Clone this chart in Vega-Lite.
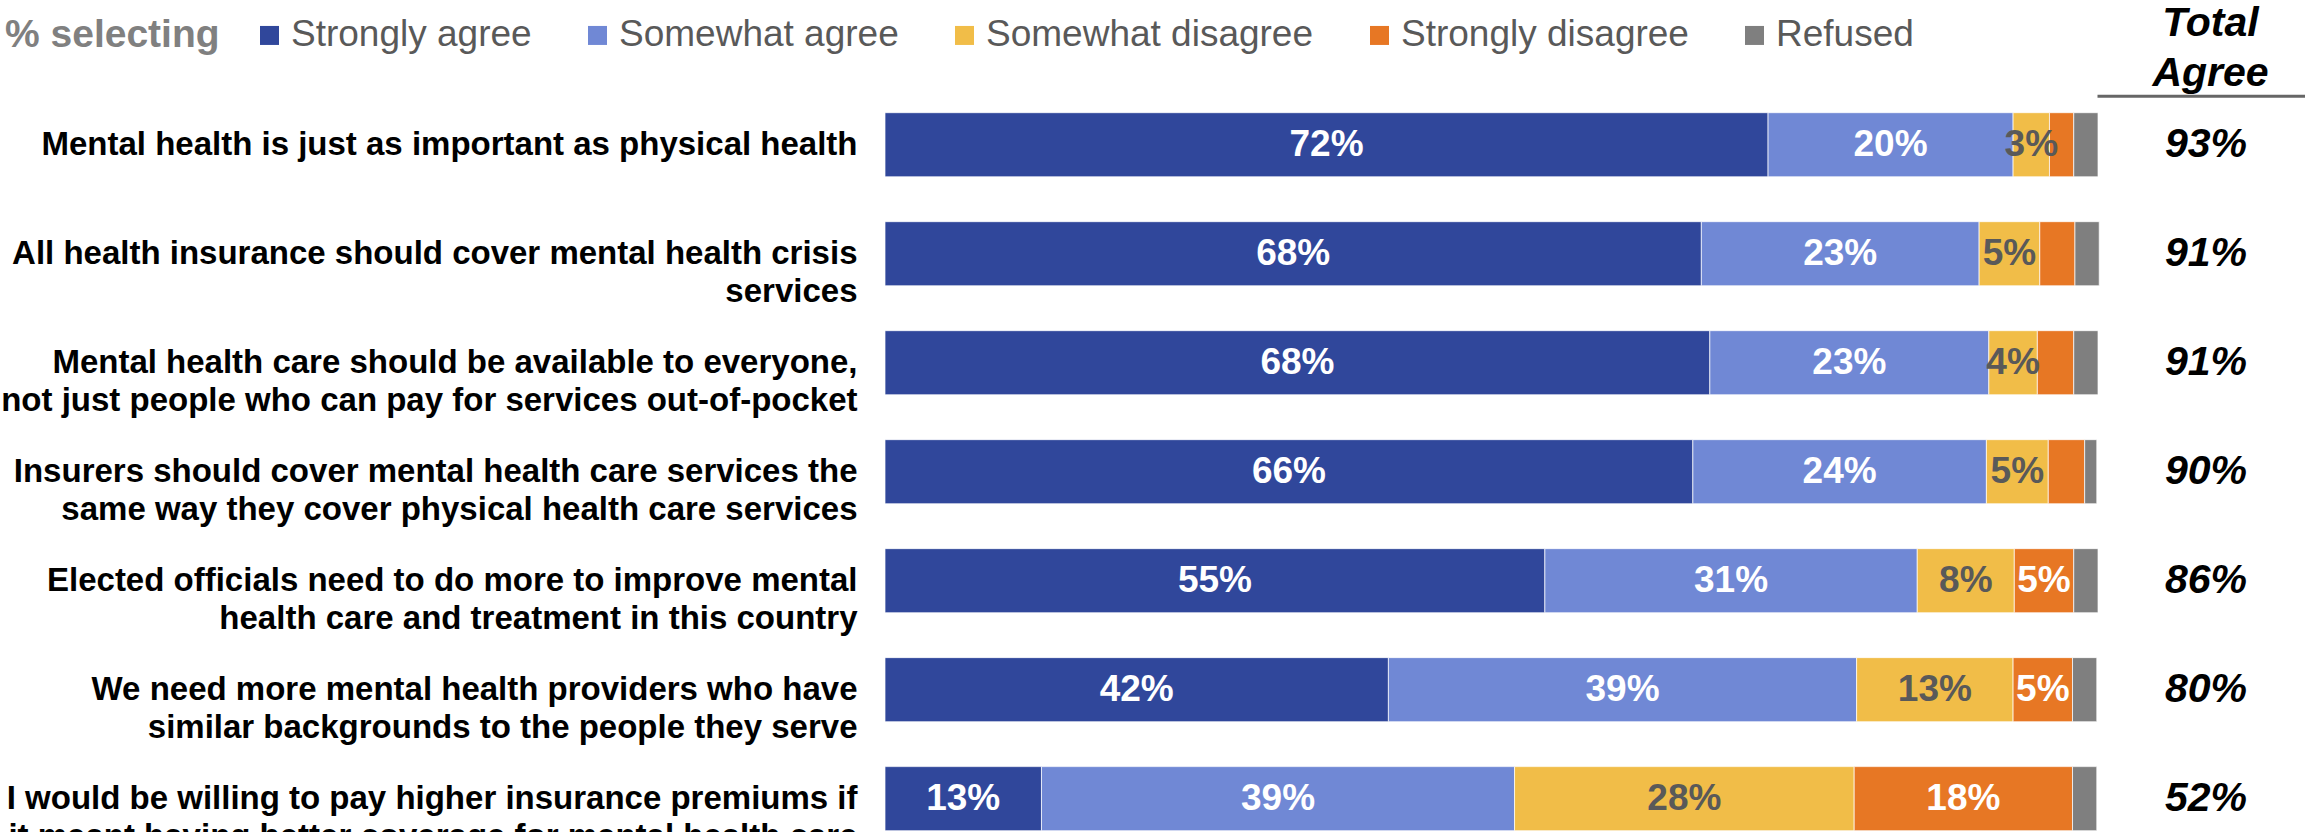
{
  "$schema": "https://vega.github.io/schema/vega-lite/v6.json",
  "autosize": {"type": "none"},
  "width": 1420,
  "height": 718,
  "padding": {"left": 885, "top": 112.7, "right": 0, "bottom": 1.3},
  "background": "white",
  "config": {"view": {"stroke": null}, "font": "Liberation Sans"},
  "datasets": {
    "resp": [
      {"statement": "Mental health is just as important as physical health", "response": "Strongly agree", "rank": 1, "value": 72.8, "label": "72%"},
      {"statement": "Mental health is just as important as physical health", "response": "Somewhat agree", "rank": 2, "value": 20.2, "label": "20%"},
      {"statement": "Mental health is just as important as physical health", "response": "Somewhat disagree", "rank": 3, "value": 3.0, "label": "3%"},
      {"statement": "Mental health is just as important as physical health", "response": "Strongly disagree", "rank": 4, "value": 2.0, "label": ""},
      {"statement": "Mental health is just as important as physical health", "response": "Refused", "rank": 5, "value": 2.0, "label": ""},
      {"statement": "All health insurance should cover mental health crisis|services", "response": "Strongly agree", "rank": 1, "value": 67.3, "label": "68%"},
      {"statement": "All health insurance should cover mental health crisis|services", "response": "Somewhat agree", "rank": 2, "value": 22.9, "label": "23%"},
      {"statement": "All health insurance should cover mental health crisis|services", "response": "Somewhat disagree", "rank": 3, "value": 5.0, "label": "5%"},
      {"statement": "All health insurance should cover mental health crisis|services", "response": "Strongly disagree", "rank": 4, "value": 2.9, "label": ""},
      {"statement": "All health insurance should cover mental health crisis|services", "response": "Refused", "rank": 5, "value": 2.0, "label": ""},
      {"statement": "Mental health care should be available to everyone,|not just people who can pay for services out-of-pocket", "response": "Strongly agree", "rank": 1, "value": 68.0, "label": "68%"},
      {"statement": "Mental health care should be available to everyone,|not just people who can pay for services out-of-pocket", "response": "Somewhat agree", "rank": 2, "value": 23.0, "label": "23%"},
      {"statement": "Mental health care should be available to everyone,|not just people who can pay for services out-of-pocket", "response": "Somewhat disagree", "rank": 3, "value": 4.0, "label": "4%"},
      {"statement": "Mental health care should be available to everyone,|not just people who can pay for services out-of-pocket", "response": "Strongly disagree", "rank": 4, "value": 3.0, "label": ""},
      {"statement": "Mental health care should be available to everyone,|not just people who can pay for services out-of-pocket", "response": "Refused", "rank": 5, "value": 2.0, "label": ""},
      {"statement": "Insurers should cover mental health care services the|same way they cover physical health care services", "response": "Strongly agree", "rank": 1, "value": 66.6, "label": "66%"},
      {"statement": "Insurers should cover mental health care services the|same way they cover physical health care services", "response": "Somewhat agree", "rank": 2, "value": 24.2, "label": "24%"},
      {"statement": "Insurers should cover mental health care services the|same way they cover physical health care services", "response": "Somewhat disagree", "rank": 3, "value": 5.1, "label": "5%"},
      {"statement": "Insurers should cover mental health care services the|same way they cover physical health care services", "response": "Strongly disagree", "rank": 4, "value": 3.0, "label": ""},
      {"statement": "Insurers should cover mental health care services the|same way they cover physical health care services", "response": "Refused", "rank": 5, "value": 1.0, "label": ""},
      {"statement": "Elected officials need to do more to improve mental|health care and treatment in this country", "response": "Strongly agree", "rank": 1, "value": 54.4, "label": "55%"},
      {"statement": "Elected officials need to do more to improve mental|health care and treatment in this country", "response": "Somewhat agree", "rank": 2, "value": 30.7, "label": "31%"},
      {"statement": "Elected officials need to do more to improve mental|health care and treatment in this country", "response": "Somewhat disagree", "rank": 3, "value": 8.0, "label": "8%"},
      {"statement": "Elected officials need to do more to improve mental|health care and treatment in this country", "response": "Strongly disagree", "rank": 4, "value": 4.9, "label": "5%"},
      {"statement": "Elected officials need to do more to improve mental|health care and treatment in this country", "response": "Refused", "rank": 5, "value": 2.0, "label": ""},
      {"statement": "We need more mental health providers who have|similar backgrounds to the people they serve", "response": "Strongly agree", "rank": 1, "value": 41.5, "label": "42%"},
      {"statement": "We need more mental health providers who have|similar backgrounds to the people they serve", "response": "Somewhat agree", "rank": 2, "value": 38.6, "label": "39%"},
      {"statement": "We need more mental health providers who have|similar backgrounds to the people they serve", "response": "Somewhat disagree", "rank": 3, "value": 12.9, "label": "13%"},
      {"statement": "We need more mental health providers who have|similar backgrounds to the people they serve", "response": "Strongly disagree", "rank": 4, "value": 4.9, "label": "5%"},
      {"statement": "We need more mental health providers who have|similar backgrounds to the people they serve", "response": "Refused", "rank": 5, "value": 2.0, "label": ""},
      {"statement": "I would be willing to pay higher insurance premiums if|it meant having better coverage for mental health care", "response": "Strongly agree", "rank": 1, "value": 12.9, "label": "13%"},
      {"statement": "I would be willing to pay higher insurance premiums if|it meant having better coverage for mental health care", "response": "Somewhat agree", "rank": 2, "value": 39.0, "label": "39%"},
      {"statement": "I would be willing to pay higher insurance premiums if|it meant having better coverage for mental health care", "response": "Somewhat disagree", "rank": 3, "value": 28.0, "label": "28%"},
      {"statement": "I would be willing to pay higher insurance premiums if|it meant having better coverage for mental health care", "response": "Strongly disagree", "rank": 4, "value": 18.0, "label": "18%"},
      {"statement": "I would be willing to pay higher insurance premiums if|it meant having better coverage for mental health care", "response": "Refused", "rank": 5, "value": 2.0, "label": ""}
    ],
    "totals": [
      {"statement": "Mental health is just as important as physical health", "col": "Total Agree", "total": "93%"},
      {"statement": "All health insurance should cover mental health crisis|services", "col": "Total Agree", "total": "91%"},
      {"statement": "Mental health care should be available to everyone,|not just people who can pay for services out-of-pocket", "col": "Total Agree", "total": "91%"},
      {"statement": "Insurers should cover mental health care services the|same way they cover physical health care services", "col": "Total Agree", "total": "90%"},
      {"statement": "Elected officials need to do more to improve mental|health care and treatment in this country", "col": "Total Agree", "total": "86%"},
      {"statement": "We need more mental health providers who have|similar backgrounds to the people they serve", "col": "Total Agree", "total": "80%"},
      {"statement": "I would be willing to pay higher insurance premiums if|it meant having better coverage for mental health care", "col": "Total Agree", "total": "52%"}
    ]
  },
  "encoding": {
    "y": {
      "field": "statement",
      "type": "nominal",
      "scale": {
        "domain": [
          "Mental health is just as important as physical health",
          "All health insurance should cover mental health crisis|services",
          "Mental health care should be available to everyone,|not just people who can pay for services out-of-pocket",
          "Insurers should cover mental health care services the|same way they cover physical health care services",
          "Elected officials need to do more to improve mental|health care and treatment in this country",
          "We need more mental health providers who have|similar backgrounds to the people they serve",
          "I would be willing to pay higher insurance premiums if|it meant having better coverage for mental health care"
        ],
        "paddingInner": 0.412,
        "paddingOuter": 0
      },
      "axis": {
        "title": null,
        "domain": false,
        "ticks": false,
        "grid": false,
        "labelPadding": 28,
        "labelFontSize": 33,
        "labelFontWeight": "bold",
        "labelColor": "#000000",
        "labelFont": "Liberation Sans",
        "labelLimit": 1200,
        "labelLineHeight": 38,
        "labelExpr": "split(datum.label, '|')"
      }
    }
  },
  "layer": [
    {
      "data": {"name": "resp"},
      "transform": [
        {"stack": "value", "groupby": ["statement"], "sort": [{"field": "rank", "order": "ascending"}], "as": ["x0", "x1"]}
      ],
      "mark": {"type": "bar", "stroke": "#ffffff", "strokeWidth": 1, "strokeOpacity": 0.7},
      "encoding": {
        "x": {"field": "x0", "type": "quantitative", "scale": {"domain": [0, 100], "range": [0, 1213], "nice": false, "zero": true}, "axis": null},
        "x2": {"field": "x1"},
        "color": {
          "field": "response",
          "type": "nominal",
          "scale": {
            "domain": ["Strongly agree", "Somewhat agree", "Somewhat disagree", "Strongly disagree", "Refused"],
            "range": ["#30479B", "#7088D5", "#F1BD48", "#E77724", "#7F7F7F"]
          },
          "legend": {
            "orient": "none",
            "legendX": -880,
            "legendY": -96,
            "direction": "horizontal",
            "columns": 5,
            "title": "% selecting",
            "titleOrient": "left",
            "titleFontSize": 39,
            "titleFontWeight": "bold",
            "titleColor": "#808080",
            "titleFont": "Liberation Sans",
            "titlePadding": 31,
            "titleLimit": 600,
            "symbolType": "square",
            "symbolSize": 361,
            "symbolStrokeWidth": 0,
            "symbolOpacity": 1,
            "labelFontSize": 37,
            "labelColor": "#595959",
            "labelFont": "Liberation Sans",
            "labelOffset": 3,
            "columnPadding": 47,
            "labelLimit": 600
          }
        }
      }
    },
    {
      "data": {"name": "resp"},
      "transform": [
        {"stack": "value", "groupby": ["statement"], "sort": [{"field": "rank", "order": "ascending"}], "as": ["x0", "x1"]},
        {"calculate": "(datum.x0 + datum.x1) / 2", "as": "xm"}
      ],
      "mark": {"type": "text", "fontSize": 37, "fontWeight": "bold", "baseline": "middle", "align": "center", "font": "Liberation Sans"},
      "encoding": {
        "x": {"field": "xm", "type": "quantitative", "scale": {"domain": [0, 100], "range": [0, 1213], "nice": false, "zero": true}, "axis": null},
        "text": {"field": "label"},
        "color": {"condition": {"test": "datum.response === 'Somewhat disagree'", "value": "#595959"}, "value": "#ffffff"}
      }
    },
    {
      "data": {"name": "totals"},
      "mark": {"type": "text", "fontSize": 41, "fontWeight": "bold", "fontStyle": "italic", "color": "#000000", "dx": 5, "baseline": "middle", "align": "center", "font": "Liberation Sans"},
      "encoding": {
        "x": {
          "field": "col",
          "type": "nominal",
          "scale": {"type": "point", "range": [1212, 1420], "padding": 0.5},
          "axis": {
            "orient": "top",
            "title": ["Total", "Agree"],
            "labels": false,
            "ticks": false,
            "grid": false,
            "domain": true,
            "domainColor": "#666666",
            "domainWidth": 3,
            "offset": 17,
            "titleFont": "Liberation Sans",
            "titleFontSize": 41,
            "titleFontWeight": "bold",
            "titleFontStyle": "italic",
            "titleColor": "#000000",
            "titleLineHeight": 50,
            "titlePadding": 1,
            "titleX": 1325
          }
        },
        "text": {"field": "total"}
      }
    }
  ],
  "resolve": {"scale": {"x": "independent"}, "axis": {"x": "independent"}}
}
